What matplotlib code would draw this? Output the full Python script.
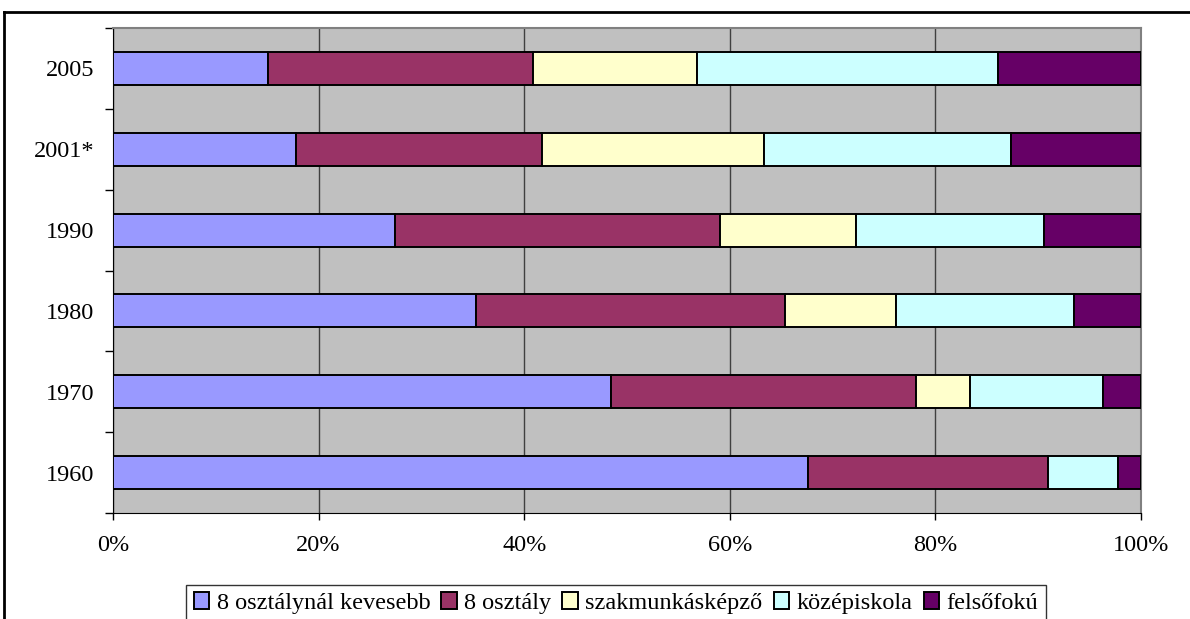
import matplotlib
matplotlib.use("Agg")
import matplotlib.pyplot as plt
from matplotlib.lines import Line2D
import numpy as np

years = ["1960", "1970", "1980", "1990", "2001*", "2005"]
series_names = ["8 osztálynál kevesebb", "8 osztály", "szakmunkásképző",
                "középiskola", "felsőfokú"]
less_than_8 = [67.6, 48.4, 35.3, 27.4, 17.8, 15.1]
eight_grades = [23.4, 29.7, 30.1, 31.6, 23.9, 25.8]
vocational = [0.0, 5.3, 10.8, 13.3, 21.6, 15.9]
secondary = [6.8, 12.9, 17.3, 18.3, 24.1, 29.3]
higher = [2.2, 3.7, 6.5, 9.4, 12.6, 13.9]
colors = ["#9999FF", "#993366", "#FFFFCC", "#CCFFFF", "#660066"]
x_ticklabels = ["0%", "20%", "40%", "60%", "80%", "100%"]

plt.rcParams['font.family'] = ['Liberation Serif', 'DejaVu Serif']

fig = plt.figure(figsize=(11.9, 6.19), dpi=100)
ax = fig.add_axes([113/1190, 1-513/619, (1141-113)/1190, (513-28)/619])
ax.set_facecolor("#C0C0C0")

data = np.array([less_than_8, eight_grades, vocational, secondary, higher])
data = data / data.sum(axis=0) * 100
ypos = np.arange(len(years))
left = np.zeros(len(years))
for vals, name, col in zip(data, series_names, colors):
    ax.barh(ypos, vals, left=left, height=0.41, color=col, edgecolor="black",
            linewidth=1.4, label=name, zorder=3)
    left += vals

ax.set_xlim(0, 100)
ax.set_ylim(-0.5, len(years) - 0.5)
ax.set_xticks(np.linspace(0, 100, 6))
ax.set_xticklabels(x_ticklabels, fontsize=17.5)
ax.set_yticks(ypos)
ax.set_yticklabels(years, fontsize=17.5)
ax.set_yticks(np.arange(-0.5, len(years)), minor=True)
ax.tick_params(axis='y', which='major', length=0, pad=13.5)
ax.tick_params(axis='y', which='minor', length=5.5, width=1, color='black')
ax.tick_params(axis='x', which='major', length=5, width=1, pad=11)
ax.grid(axis='x', color="#404040", linewidth=1, zorder=1)
ax.set_axisbelow(True)
for s in ["top", "right"]:
    ax.spines[s].set_color("#808080")
    ax.spines[s].set_linewidth(1.5)
ax.spines["left"].set_color("black")
ax.spines["bottom"].set_color("black")

leg = fig.legend(loc="upper center", bbox_to_anchor=(616/1190, 1-585/619),
                 ncol=5, fontsize=17.5, frameon=True, fancybox=False,
                 edgecolor="black", handlelength=0.65, handleheight=0.65,
                 handletextpad=0.3, columnspacing=0.45, borderpad=0.3,
                 borderaxespad=0)
leg.get_frame().set_linewidth(1)

# outer chart frame (cut off at right and bottom)
fig.add_artist(Line2D([4/1190, 4/1190], [0, 1-12/619], transform=fig.transFigure,
                      color="black", linewidth=2))
fig.add_artist(Line2D([4/1190, 1], [1-12/619, 1-12/619], transform=fig.transFigure,
                      color="black", linewidth=2))

fig.savefig("out.png", dpi=100)
